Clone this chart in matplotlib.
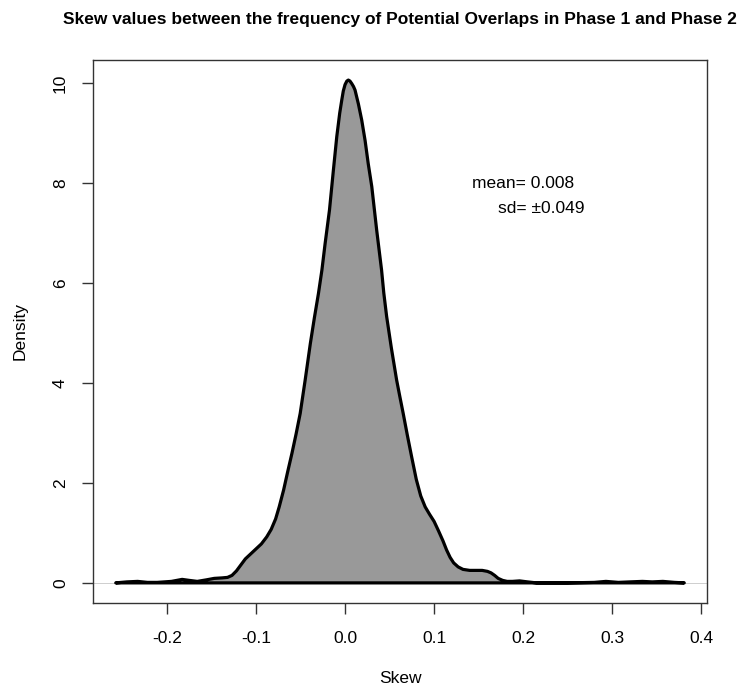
import matplotlib.pyplot as plt

# density curve of skew values
skew_x = [
    -0.2576, -0.245, -0.233, -0.222, -0.211, -0.195, -0.183, -0.175, -0.166,
    -0.156, -0.147, -0.138, -0.132, -0.127, -0.122, -0.117, -0.112, -0.106,
    -0.100, -0.094, -0.088, -0.083, -0.078, -0.074, -0.069, -0.0645, -0.0597,
    -0.055, -0.0504, -0.0448, -0.039, -0.0345, -0.0299, -0.026, -0.0224,
    -0.0175, -0.0131, -0.0093, -0.006, -0.0037, -0.002, 0.0, 0.002, 0.0037,
    0.0055, 0.0075, 0.0095, 0.0112, 0.015, 0.0187, 0.0225, 0.026, 0.030,
    0.0355, 0.041, 0.0435, 0.0467, 0.052, 0.0579, 0.0615, 0.0653, 0.070,
    0.0747, 0.080, 0.085, 0.090, 0.095, 0.100, 0.105, 0.110, 0.114, 0.118,
    0.122, 0.127, 0.1325, 0.140, 0.147, 0.154, 0.160, 0.164, 0.168, 0.172,
    0.177, 0.182, 0.188, 0.196, 0.205, 0.215, 0.25, 0.28, 0.293, 0.307,
    0.32, 0.334, 0.345, 0.357, 0.37, 0.381,
]
density = [
    0.00, 0.02, 0.03, 0.01, 0.01, 0.03, 0.07, 0.05, 0.03,
    0.06, 0.09, 0.10, 0.11, 0.15, 0.24, 0.36, 0.48, 0.58,
    0.68, 0.78, 0.92, 1.07, 1.28, 1.52, 1.86, 2.22, 2.59,
    2.98, 3.39, 4.06, 4.79, 5.30, 5.79, 6.26, 6.79,
    7.46, 8.26, 8.93, 9.40, 9.66, 9.84, 9.97, 10.04, 10.06,
    10.04, 9.99, 9.93, 9.86, 9.58, 9.26, 8.85, 8.39, 7.93,
    7.06, 6.26, 5.80, 5.33, 4.70, 4.06, 3.73, 3.39, 2.95,
    2.53, 2.07, 1.74, 1.52, 1.37, 1.23, 1.04, 0.84, 0.66, 0.51,
    0.40, 0.32, 0.27, 0.25, 0.25, 0.25, 0.23, 0.20, 0.15, 0.09,
    0.05, 0.03, 0.03, 0.04, 0.02, 0.00, 0.00, 0.01, 0.03, 0.01,
    0.02, 0.03, 0.02, 0.03, 0.01, 0.00,
]
skew_mean = 0.008
skew_sd = 0.049

x_ticks = [-0.2, -0.1, 0.0, 0.1, 0.2, 0.3, 0.4]
x_tick_labels = ["-0.2", "-0.1", "0.0", "0.1", "0.2", "0.3", "0.4"]
y_ticks = [0, 2, 4, 6, 8, 10]

plt.rcParams["font.family"] = ["Liberation Sans", "DejaVu Sans"]

fig = plt.figure(figsize=(7.43, 6.87), dpi=100)
ax = fig.add_axes([0.1252, 0.1223, 0.8263, 0.7904])

ax.axhline(0, color="#bbbbbb", lw=0.5, zorder=1)
ax.fill(skew_x, density, facecolor="#999999", edgecolor="black",
        linewidth=2.3, joinstyle="round", zorder=2)

ax.text(0.2, 8.0, f"mean= {skew_mean:.3f}", ha="center", va="center", fontsize=12.5)
ax.text(0.22, 7.5, f"sd= \u00b1{skew_sd:.3f}", ha="center", va="center", fontsize=12.5)

ax.set_xlim(-0.2831, 0.4065)
ax.set_ylim(-0.402, 10.462)
ax.set_xticks(x_ticks)
ax.set_xticklabels(x_tick_labels)
ax.set_yticks(y_ticks)
ax.set_yticklabels([str(v) for v in y_ticks], rotation=90, va="center")
ax.tick_params(length=8, width=1, labelsize=12.5, pad=10, color="#333333")
ax.tick_params(axis="x", pad=12)

for spine in ax.spines.values():
    spine.set_linewidth(1)
    spine.set_color("#333333")

ax.set_xlabel("Skew", fontsize=12.5, labelpad=18)
ax.set_ylabel("Density", fontsize=12.5, labelpad=18)
ax.set_title("Skew values between the frequency of Potential Overlaps in Phase 1 and Phase 2",
             fontsize=12.5, fontweight="bold", pad=26)

fig.savefig("out.png", dpi=100)
